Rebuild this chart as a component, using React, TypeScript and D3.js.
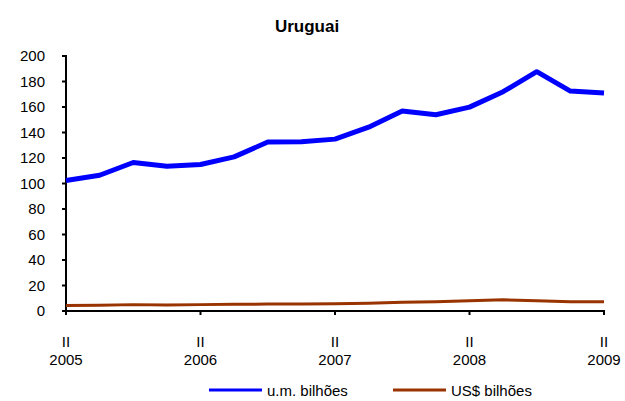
import React from "react";
import * as d3 from "d3";

const quarters = [
  "2005-II","2005-III","2005-IV","2006-I","2006-II","2006-III","2006-IV","2007-I","2007-II",
  "2007-III","2007-IV","2008-I","2008-II","2008-III","2008-IV","2009-I","2009-II",
];
const umBilhoes = [102.4, 106.5, 116.5, 113.6, 114.9, 120.9, 132.5, 132.7, 134.8, 144.2, 156.8, 153.9, 159.9, 172, 187.7, 172.5, 170.9];
const usdBilhoes = [4.3, 4.5, 5, 4.8, 5, 5.2, 5.4, 5.5, 5.6, 6.0, 6.8, 7.2, 8.0, 8.8, 8.0, 7.3, 7.3];
const yTicks = [0, 20, 40, 60, 80, 100, 120, 140, 160, 180, 200];
const xTickIdx = [0, 4, 8, 12, 16];
const xTickTop = ["II", "II", "II", "II", "II"];
const xTickYear = ["2005", "2006", "2007", "2008", "2009"];
const seriesNames = ["u.m. bilhões", "US$ bilhões"];
const colors = ["#0000FF", "#993300"];

export default function App() {
  const W = 625, H = 401;
  const x = d3.scaleLinear().domain([0, quarters.length - 1]).range([66, 604]);
  const y = d3.scaleLinear().domain([0, 200]).range([311, 56]);
  const line = d3.line<number>().x((_, i) => x(i)).y((d) => y(d));
  const font = "'Liberation Sans', Arial, sans-serif";
  return (
    <svg width={W} height={H} style={{ position: "absolute", left: 0, top: 0, background: "#fff" }} fontFamily={font}>
      <rect width={W} height={H} fill="#fff" />
      <text x={307} y={32} textAnchor="middle" fontSize={17} fontWeight="bold">Uruguai</text>
      {/* y axis */}
      <line x1={66} x2={66} y1={55} y2={312} stroke="#000" strokeWidth={2} />
      {yTicks.map((t) => (
        <g key={t}>
          <line x1={62} x2={66} y1={y(t)} y2={y(t)} stroke="#000" strokeWidth={2} />
          <text x={45} y={y(t) + 5.3} textAnchor="end" fontSize={15}>{t}</text>
        </g>
      ))}
      {/* x axis */}
      <line x1={65} x2={605} y1={311} y2={311} stroke="#000" strokeWidth={2} />
      {xTickIdx.map((idx, k) => (
        <g key={idx}>
          <line x1={x(idx)} x2={x(idx)} y1={311} y2={315} stroke="#000" strokeWidth={2} />
          <text x={x(idx)} y={347} textAnchor="middle" fontSize={15}>{xTickTop[k]}</text>
          <text x={x(idx)} y={365} textAnchor="middle" fontSize={15}>{xTickYear[k]}</text>
        </g>
      ))}
      <path d={line(usdBilhoes) || ""} fill="none" stroke={colors[1]} strokeWidth={3} strokeLinejoin="round" />
      <path d={line(umBilhoes) || ""} fill="none" stroke={colors[0]} strokeWidth={5} strokeLinejoin="round" />
      {/* legend */}
      <line x1={209} x2={262} y1={390} y2={390} stroke={colors[0]} strokeWidth={3} />
      <text x={267} y={395.5} fontSize={15}>{seriesNames[0]}</text>
      <line x1={393} x2={446} y1={390} y2={390} stroke={colors[1]} strokeWidth={3} />
      <text x={451} y={395.5} fontSize={15}>{seriesNames[1]}</text>
    </svg>
  );
}
